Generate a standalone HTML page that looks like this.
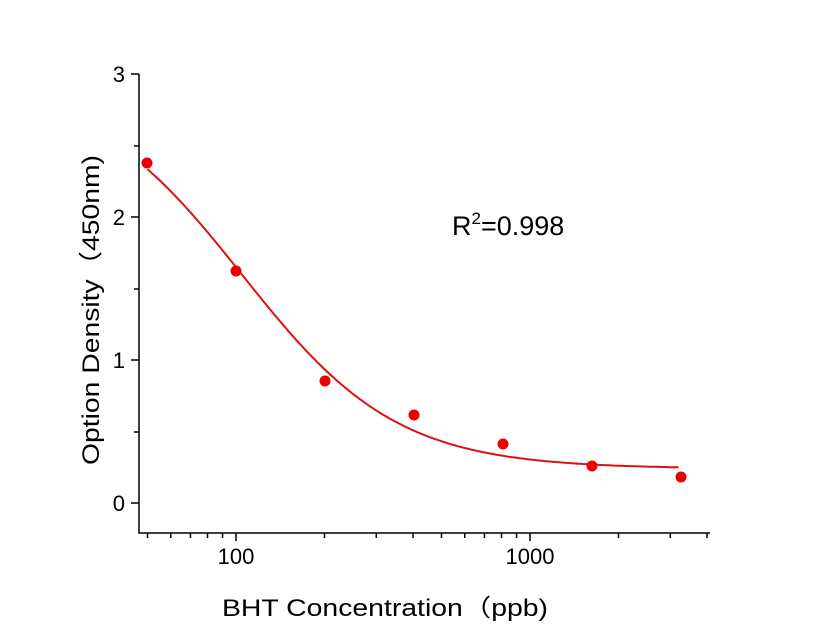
<!DOCTYPE html>
<html><head><meta charset="utf-8"><style>
html,body{margin:0;padding:0;background:#fff;}
svg{display:block;}
text{font-family:"Liberation Sans","Noto Sans CJK SC",sans-serif;fill:#000;}
</style></head><body>
<svg id="s" width="816" height="640" viewBox="0 0 816 640" xmlns="http://www.w3.org/2000/svg">
<g stroke="#000" stroke-width="1.5" fill="none">
<path d="M139,74 V533 H710"/>
<path d="M131,74H139 M134,146H139 M131,217H139 M134,289H139 M131,360H139 M134,432H139 M131,503H139"/>
</g>
<g id="xt" stroke="#000" stroke-width="1.5"></g>
<g font-size="22" text-anchor="end">
<text x="125" y="82">3</text>
<text x="125" y="225">2</text>
<text x="125" y="368">1</text>
<text x="125" y="511">0</text>
</g>
<g font-size="22" text-anchor="middle">
<text x="236" y="564">100</text>
<text x="530" y="564">1000</text>
</g>
<text x="222" y="616" font-size="24" textLength="326" lengthAdjust="spacingAndGlyphs">BHT Concentration（ppb)</text>
<text transform="translate(99,465) rotate(-90)" font-size="24" textLength="310" lengthAdjust="spacingAndGlyphs">Option Density（450nm)</text>
<text x="452" y="235" font-size="27">R<tspan font-size="17" dy="-11">2</tspan><tspan dy="11">=0.998</tspan></text>
<path id="curve" fill="none" stroke="#dd1111" stroke-width="2"/>
<g fill="#ee0000">
<circle cx="147" cy="163" r="5.5"/>
<circle cx="236" cy="271" r="5.5"/>
<circle cx="325" cy="381" r="5.5"/>
<circle cx="414" cy="415" r="5.5"/>
<circle cx="503" cy="444" r="5.5"/>
<circle cx="592" cy="466" r="5.5"/>
<circle cx="681" cy="477" r="5.5"/>
</g>
</svg>
<script>
function px(v){return 236+294*(Math.log10(v)-2);}
var t='';
[40,50,60,70,80,90,100,200,300,400,500,600,700,800,900,1000,2000,3000,4000].forEach(function(v){
 var x=px(v); if(x<140||x>711)return;
 var L=(v==100||v==1000)?8:5;
 t+='<line x1="'+x+'" y1="533" x2="'+x+'" y2="'+(533+L)+'"/>';
});
document.getElementById('xt').innerHTML=t;
var A=2.95,D=0.24,C=105,B=1.65,d='';
for(var i=0;i<=200;i++){
 var lx=Math.log10(50)+i/200*(Math.log10(3200)-Math.log10(50));
 var v=Math.pow(10,lx);
 var y=D+(A-D)/(1+Math.pow(v/C,B));
 d+=(i?'L':'M')+px(v).toFixed(1)+','+(503-143*y).toFixed(1);
}
document.getElementById('curve').setAttribute('d',d);
</script>
</body></html>
